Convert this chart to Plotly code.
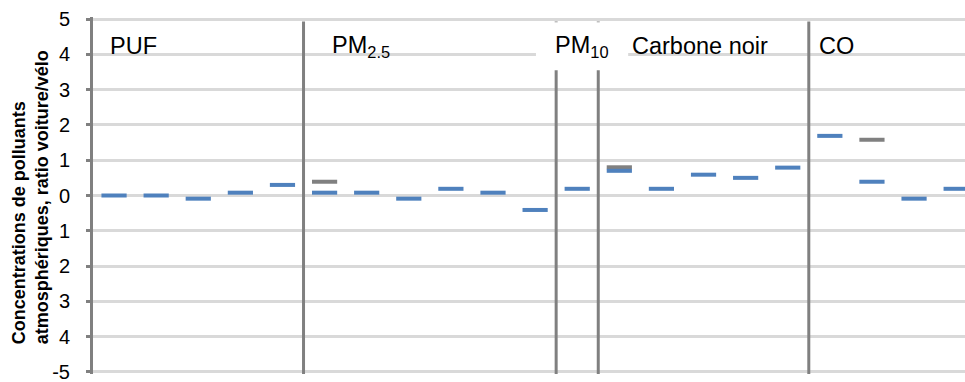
import plotly.graph_objects as go

# ---- data ----
groups = ["PUF", "PM<sub>2.5</sub>", "PM<sub>10</sub>", "Carbone noir", "CO"]
group_sizes = [5, 6, 1, 5, 4]
blue_values = [0.0, 0.0, -0.09, 0.08, 0.3,
               0.08, 0.08, -0.09, 0.19, 0.08, -0.41,
               0.19,
               0.7, 0.19, 0.59, 0.5, 0.79,
               1.69, 0.39, -0.09, 0.19]
gray_values = [None, None, None, None, None,
               0.39, None, None, None, None, None,
               None,
               0.8, None, None, None, None,
               None, 1.58, None, None]
tick_vals = [-5, -4, -3, -2, -1, 0, 1, 2, 3, 4, 5]
tick_text = ["-5", "4", "3", "2", "1", "0", "1", "2", "3", "4", "5"]
y_title = "<b>Concentrations de polluants<br>atmosphériques, ratio voiture/vélo</b>"

x_idx = list(range(len(blue_values)))
FONT = "Liberation Sans, Arial, Helvetica, sans-serif"

fig = go.Figure()
fig.add_trace(go.Scatter(
    x=x_idx, y=gray_values, mode="markers",
    marker=dict(symbol="line-ew", size=18, line=dict(width=4, color="#808080")),
    showlegend=False, hoverinfo="skip"))
fig.add_trace(go.Scatter(
    x=x_idx, y=blue_values, mode="markers",
    marker=dict(symbol="line-ew", size=18, line=dict(width=4, color="#4f81bd")),
    showlegend=False))

# group separators and labels
shapes = []
annotations = []
start = 0
for i, (g, n) in enumerate(zip(groups, group_sizes)):
    if i > 0:
        shapes.append(dict(type="line", xref="x", yref="y",
                           x0=start - 0.5, x1=start - 0.5, y0=4.93, y1=-5.06,
                           line=dict(color="#808080", width=3), layer="above"))
    start += n

label_x = [-0.14, 5.13, 10.42, 12.26, 16.70]
for g, lx in zip(groups, label_x):
    annotations.append(dict(x=lx, y=4.23, xref="x", yref="y", text=g,
                            showarrow=False, xanchor="left", yanchor="middle",
                            font=dict(family=FONT, size=23.5, color="#000000")))

# white box behind PM10 label
shapes.append(dict(type="rect", xref="x", yref="y", x0=10.02, x1=12.21, y0=3.55, y1=4.91,
                   fillcolor="white", line=dict(width=0), layer="above"))

annotations.append(dict(x=-(93 - 7) / 872, y=(374.3 - 347) / 357.2, xref="paper", yref="paper",
                        text=y_title, textangle=-90, showarrow=False,
                        xanchor="left", yanchor="bottom", align="left",
                        font=dict(family=FONT, size=18, color="#000000")))

fig.update_layout(
    width=965, height=382,
    margin=dict(l=93, r=0, t=17, b=8),
    paper_bgcolor="white", plot_bgcolor="white",
    shapes=shapes, annotations=annotations,
    showlegend=False,
    xaxis=dict(range=[-0.5, 20.21], showgrid=False, zeroline=False,
               showticklabels=False, ticks="", showline=False, fixedrange=True),
    yaxis=dict(range=[-5.06, 5.06], tickvals=tick_vals, ticktext=tick_text,
               showgrid=True, gridcolor="#d9d9d9", gridwidth=3,
               zeroline=False, showline=True, linecolor="#808080", linewidth=3,
               ticks="outside", ticklen=4, tickwidth=3, tickcolor="#808080",
               ticklabelstandoff=12, ticklabeloverflow="allow",
               tickfont=dict(family=FONT, size=20, color="#000000"), fixedrange=True),
)

fig.write_html("out.html", config={"displayModeBar": False},
               post_script="document.body.style.margin='0';document.body.style.overflow='hidden';")
